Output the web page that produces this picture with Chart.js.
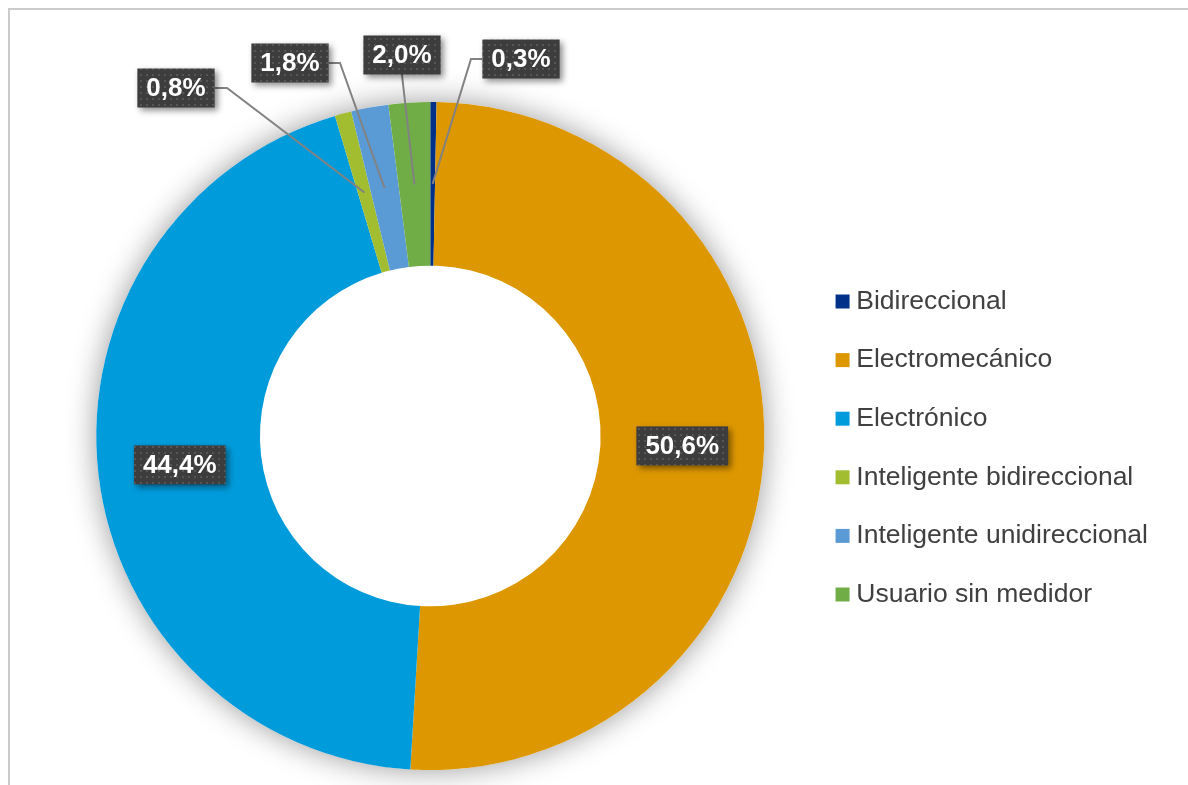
<!DOCTYPE html>
<html>
<head>
<meta charset="utf-8">
<script src="https://cdn.jsdelivr.net/npm/chart.js@4"></script>
<style>
  body { margin: 0; background: #fff; }
  #wrap { position: relative; width: 1188px; height: 785px; }
  #frame { position: absolute; left: 8px; top: 8px; right: 0; bottom: 0; border-left: 2px solid #cacaca; border-top: 2px solid #cacaca; pointer-events: none; }
</style>
</head>
<body>
<div id="wrap">
  <canvas id="chart" width="1188" height="785"></canvas>
  <div id="frame"></div>
</div>
<script>
const categories = ['Bidireccional', 'Electromecánico', 'Electrónico', 'Inteligente bidireccional', 'Inteligente unidireccional', 'Usuario sin medidor'];
const shares = [0.3, 50.6, 44.4, 0.8, 1.8, 2.0];
const sliceColors = ['#003087', '#dd9700', '#009bdb', '#a3bd31', '#5b9bd5', '#70ad47'];

// where the small labels sit (box centre) and where their leader bends
const calloutSpots = {
  0: { cx: 521, cy: 59, bendX: 471, bendY: 59, fromX: 482, fromY: 59 },
  3: { cx: 176, cy: 88, bendX: 227, bendY: 88, fromX: 215, fromY: 88 },
  4: { cx: 290, cy: 63, bendX: 340, bendY: 63, fromX: 329, fromY: 63 },
  5: { cx: 402, cy: 55, bendX: 402, bendY: 75, fromX: 402, fromY: 74 }
};

const fmt = v => v.toFixed(1).replace('.', ',') + '%';

function dotPattern(ctx) {
  const c = document.createElement('canvas');
  c.width = 6; c.height = 6;
  const p = c.getContext('2d');
  p.fillStyle = '#3d3d3d';
  p.fillRect(0, 0, 6, 6);
  p.fillStyle = '#565656';
  p.fillRect(2, 2, 2, 2);
  return ctx.createPattern(c, 'repeat');
}

const ringShadow = {
  id: 'ringShadow',
  beforeDatasetsDraw(chart) {
    const arc = chart.getDatasetMeta(0).data[0];
    if (!arc) return;
    const ctx = chart.ctx;
    ctx.save();
    ctx.shadowColor = 'rgba(0,0,0,0.4)';
    ctx.shadowBlur = 30;
    ctx.fillStyle = '#fff';
    ctx.beginPath();
    ctx.arc(arc.x, arc.y, arc.outerRadius, 0, Math.PI * 2);
    ctx.fill();
    ctx.restore();
  }
};

const valueBoxes = {
  id: 'valueBoxes',
  afterDatasetsDraw(chart) {
    const ctx = chart.ctx;
    const meta = chart.getDatasetMeta(0);
    const pattern = dotPattern(ctx);
    ctx.save();
    ctx.font = 'bold 26px "Liberation Sans", Arial, sans-serif';
    ctx.textAlign = 'center';
    ctx.textBaseline = 'middle';
    meta.data.forEach((arc, i) => {
      const pos = arc.tooltipPosition();
      const spot = calloutSpots[i];
      let cx = pos.x, cy = pos.y;
      if (spot) {
        cx = spot.cx; cy = spot.cy;
        ctx.strokeStyle = '#828282';
        ctx.lineWidth = 2;
        ctx.beginPath();
        ctx.moveTo(spot.fromX, spot.fromY);
        ctx.lineTo(spot.bendX, spot.bendY);
        ctx.lineTo(pos.x, pos.y);
        ctx.stroke();
      }
      const txt = fmt(shares[i]);
      const w = ctx.measureText(txt).width + 18;
      const h = 39;
      ctx.save();
      ctx.shadowColor = 'rgba(0,0,0,0.45)';
      ctx.shadowBlur = 6;
      ctx.shadowOffsetX = 3;
      ctx.shadowOffsetY = 3;
      ctx.fillStyle = pattern;
      ctx.fillRect(cx - w / 2, cy - h / 2, w, h);
      ctx.restore();
      ctx.fillStyle = '#ffffff';
      ctx.fillText(txt, cx, cy + 1);
    });
    ctx.restore();
  }
};

new Chart(document.getElementById('chart'), {
  type: 'doughnut',
  data: {
    labels: categories,
    datasets: [{
      data: shares,
      backgroundColor: sliceColors,
      borderWidth: 0,
      hoverOffset: 0
    }]
  },
  options: {
    responsive: false,
    animation: false,
    cutout: '51%',
    layout: { padding: { left: 50.6, right: 30, top: 102, bottom: 15 } },
    plugins: {
      tooltip: { enabled: false },
      legend: {
        position: 'right',
        title: { display: true, text: '', padding: 0, font: { size: 20 } },
        labels: {
          usePointStyle: true,
          pointStyle: 'rect',
          boxWidth: 1,
          boxHeight: 14,
          padding: 32.1,
          color: '#404040',
          font: { size: 26.5, family: '"Liberation Sans", Arial, sans-serif' }
        }
      }
    }
  },
  plugins: [ringShadow, valueBoxes]
});
</script>
</body>
</html>
